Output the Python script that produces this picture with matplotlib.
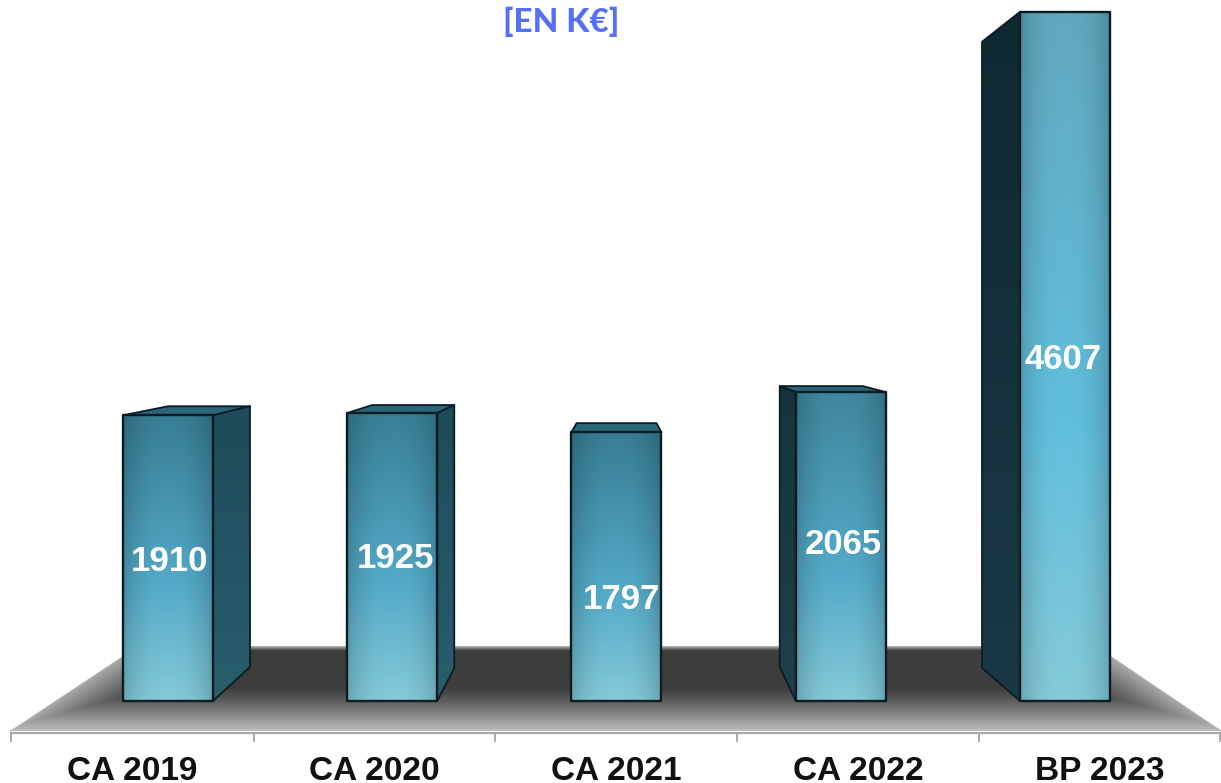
#!/usr/bin/env python3

import numpy as np
import matplotlib
matplotlib.use("Agg")
import matplotlib.pyplot as plt
from matplotlib.patches import Polygon

categories = ["CA 2019", "CA 2020", "CA 2021", "CA 2022", "BP 2023"]
values = [1910, 1925, 1797, 2065, 4607]

W, H = 1221, 783
# the picture's scale: 224 px per bar step, 0.1496 px per k€
px_x = 224.25
px_y = 0.1496
x0_px = 168.0
base_px = 701.0

# 3D depth of each bar in px (top and bottom corner of the side face)
top_dx = [37, 17, 5, -16, -38]
top_dy = [9, 8, 9, 6, -30]
bot_dy = [34, 33, 0, 34, 33]
label_dx = [1, 3, 5, 3, -2]
label_dy = [-3, -1, -33, 2, -3]
top_colors = [(0.22, 0.49, 0.58), (0.22, 0.50, 0.59), (0.22, 0.49, 0.58), (0.25, 0.53, 0.62), (0.38, 0.66, 0.75)]
side_colors = [((0.12, 0.29, 0.35), (0.16, 0.37, 0.43)), ((0.12, 0.29, 0.35), (0.16, 0.37, 0.43)),
               None, ((0.08, 0.20, 0.24), (0.12, 0.25, 0.30)), ((0.06, 0.16, 0.20), (0.10, 0.22, 0.27))]


def dx(p):
    return p / px_x


def dy(p):
    return p / px_y


def ypx(p):
    return (base_px - p) / px_y


def xpx(p):
    return (p - x0_px) / px_x


def gradient(ax, poly, img, zo):
    # picture clipped to the polygon
    xs = [p[0] for p in poly]
    ys = [p[1] for p in poly]
    im = ax.imshow(img, extent=(min(xs), max(xs), min(ys), max(ys)), origin="upper",
                   aspect="auto", interpolation="bilinear", zorder=zo)
    patch = Polygon(poly, closed=True, transform=ax.transData, fc="none", ec="none")
    ax.add_patch(patch)
    im.set_clip_path(patch)


fig = plt.figure(figsize=(W / 100, H / 100), dpi=100)
ax = fig.add_axes([0, 0, 1, 1])
ax.axis("off")

# floor
floor = [(xpx(11), ypx(731)), (xpx(139), ypx(646)), (xpx(1095), ypx(646)), (xpx(1221), ypx(731))]
yy, xx = np.mgrid[646:731:86j, 11:1221:606j]
t = (yy - 646) / 85
shade = 0.24 + 0.50 * np.clip((t - 0.5) / 0.5, 0, 1) ** 1.15
shade = np.where(t < 0.06, 0.24 + (0.06 - t) * 9, shade)
# lighter towards both slanted edges
left = xx - (139 - t * 128)
right = (1095 + t * 126) - xx
edge = np.minimum(left, right)
shade = np.maximum(shade, 0.24 + 0.42 * np.clip(1 - edge / 85, 0, 1) ** 1.3)
gradient(ax, floor, np.clip(np.dstack([shade] * 3), 0, 1), 1)
ax.plot([floor[0][0], floor[1][0]], [floor[0][1], floor[1][1]], color="#b0b0b0", lw=0.8, zorder=2)
ax.plot([floor[3][0], floor[2][0]], [floor[3][1], floor[2][1]], color="#b0b0b0", lw=0.8, zorder=2)
ax.plot([xpx(11), xpx(1221)], [ypx(733), ypx(733)], color="#a9a9a9", lw=1.6, zorder=2)
tick_x = [11, 254, 495, 737, 979, 1220]
for tx in tick_x:
    ax.plot([xpx(tx), xpx(tx)], [ypx(733), ypx(741)], color="#a9a9a9", lw=1.4, zorder=2)

half = dx(45)
for i, v in enumerate(values):
    l, r = i - half, i + half
    edge_x = r if top_dx[i] > 0 else l
    ddx, ddy = dx(top_dx[i]), dy(top_dy[i])

    # top face
    if i == 4:
        top = None
    elif i == 2:
        top = [(l, v), (l + dx(5), v + ddy), (r - dx(5), v + ddy), (r, v)]
    elif i == 3:
        top = [(l, v), (l + ddx, v + ddy), (r - dx(23), v + ddy), (r, v)]
    else:
        top = [(l, v), (l + dx(top_dx[i] + 8), v + ddy), (r + ddx, v + ddy), (r, v)]
    if top:
        ax.add_patch(Polygon(top, closed=True, fc="#2a6579", ec="#0b1d22", lw=1.3, joinstyle="round", zorder=3))

    # side face
    if side_colors[i] is not None:
        side = [(edge_x, v), (edge_x + ddx, v + ddy), (edge_x + ddx, dy(bot_dy[i])), (edge_x, 0)]
        c0, c1 = np.array(side_colors[i][0]), np.array(side_colors[i][1])
        s = np.linspace(0, 1, 64)[:, None, None]
        gradient(ax, side, np.tile(c0 * (1 - s) + c1 * s, (1, 2, 1)), 3)
        ax.add_patch(Polygon(side, closed=True, fc="none", ec="#0b1d22", lw=1.3, joinstyle="round", zorder=4))

    # front face
    front = [(l, 0), (l, v), (r, v), (r, 0)]
    vv, uu = np.mgrid[0:1:120j, 0:1:60j]
    c_top = np.array(top_colors[i])
    c_mid = np.array((0.33, 0.67, 0.79)) if i < 4 else np.array((0.38, 0.75, 0.87))
    c_bot = np.array((0.52, 0.79, 0.85))
    tv = vv[..., None]
    base = np.where(tv < 0.6, c_top + (c_mid - c_top) * tv / 0.6, c_mid + (c_bot - c_mid) * (tv - 0.6) / 0.4)
    dist = np.abs(2 * uu - 1)[..., None]
    img = base * (1 - 0.18 * dist ** 2.5)
    gradient(ax, front, np.clip(img, 0, 1), 4)
    ax.add_patch(Polygon(front, closed=True, fc="none", ec="#0b1d22", lw=1.7, joinstyle="round", zorder=5))

    ax.text(i + dx(label_dx[i]), v / 2 + dy(label_dy[i]), str(v), color="white", fontsize=25,
            fontweight="bold", family="Liberation Sans", ha="center", va="center", zorder=6)

label_x = [132, 374, 616, 858, 1100]
for lx, name in zip(label_x, categories):
    ax.text(xpx(lx), ypx(780), name, color="#111111", fontsize=24, fontweight="bold",
            family="Liberation Sans", ha="center", va="baseline", zorder=6)

ax.text(xpx(561), ypx(22), "[EN K€]", color="#5570f6", fontsize=24, fontweight="black",
        family="Lato", ha="center", va="center", zorder=6)

ax.set_xlim(xpx(0), xpx(W))
ax.set_ylim(ypx(H), ypx(0))
fig.savefig("out.png", dpi=100, facecolor="white")
